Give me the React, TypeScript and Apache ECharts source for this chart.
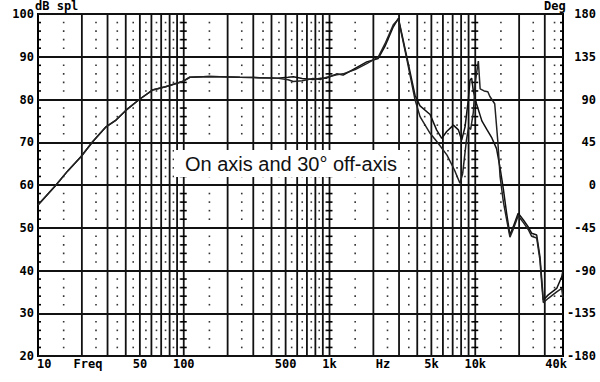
import { useEffect, useRef } from "react";
import * as echarts from "echarts";

// ---- Data ----
const freqOnAxis = [10, 13.3, 16, 19.7, 23.7, 29.3, 34.3, 40.2, 49.5, 61, 75, 98, 110, 150, 243, 330, 437, 520, 565, 650, 770, 870, 956, 1120, 1240, 1500, 1800, 2160, 2400, 2740, 2970, 3390, 3860, 4180, 4900, 5430, 5890, 6370, 7080, 7660, 8070, 8510, 8960, 9200, 9450, 9700, 10200, 11100, 12000, 13000, 14000, 14800, 15600, 16400, 17300, 18200, 19700, 21400, 23100, 24400, 26400, 27800, 28600, 29300, 31700, 36200, 39200, 40000];
const dbOnAxis = [55.3, 60, 63.3, 66.6, 70.1, 73.6, 75.2, 77.5, 80.0, 82.2, 83.0, 84.2, 85.2, 85.4, 85.2, 85.1, 85.0, 85.2, 85.3, 84.9, 84.7, 85.0, 85.0, 86.0, 85.7, 87.3, 88.8, 89.6, 92.4, 97.0, 99.0, 90, 81, 78.5, 76.5, 72.9, 70.9, 72.5, 74.0, 72.9, 70.5, 73.6, 79.9, 84.5, 85, 82, 79, 75, 73, 71, 68.5, 64, 59, 53.5, 48.3, 50.2, 53.4, 51.8, 50.2, 48.7, 48.3, 43.2, 37.8, 33.1, 34.3, 35.8, 38.5, 40];

const freqOffAxis = [10, 13.3, 16, 19.7, 23.7, 29.3, 34.3, 40.2, 49.5, 61, 75, 98, 110, 150, 243, 330, 437, 520, 565, 650, 770, 870, 956, 1120, 1240, 1500, 1800, 2160, 2400, 2740, 2970, 3390, 3860, 4180, 4900, 5500, 6400, 7200, 7850, 8200, 8700, 9000, 9300, 9700, 10000, 10500, 10800, 11500, 12200, 12600, 13600, 14300, 14800, 15600, 16400, 17300, 18200, 19700, 21400, 23100, 24400, 26400, 27800, 28600, 29300, 31700, 36200, 39200, 40000];
const dbOffAxis = [55.3, 60, 63.3, 66.6, 70.1, 73.6, 75.2, 77.5, 80.0, 82.2, 83.0, 84.2, 85.2, 85.4, 85.2, 85.1, 85.0, 84.6, 84.2, 84.4, 84.9, 84.7, 85.2, 85.8, 86.0, 87.0, 88.4, 89.9, 93.0, 97.5, 98.8, 89.5, 80, 76, 72.1, 70, 67, 63.5, 60.4, 62.7, 70.5, 73.5, 73, 77, 84, 89, 82.5, 82, 81.8, 80.7, 79, 70, 62, 56, 52, 47.8, 49.6, 52.8, 51.2, 49.6, 48.0, 47.6, 42.4, 36.8, 32.5, 33.5, 35.0, 35.8, 33.5];

// grid frequencies
const majorFreqs = [20, 30, 40, 50, 60, 70, 80, 90, 200, 300, 400, 500, 600, 700, 800, 900, 2000, 3000, 4000, 5000, 6000, 7000, 8000, 9000, 20000, 30000];
const minorFreqs = [15, 25, 35, 45, 55, 65, 75, 85, 95, 150, 250, 350, 450, 550, 650, 750, 850, 950, 1500, 2500, 3500, 4500, 5500, 6500, 7500, 8500, 9500, 15000, 25000, 35000];
const tickedFreqs = [100, 1000, 10000];
const borderFreqs = [10, 40000];
const minorDb = [22, 24, 26, 28, 32, 34, 36, 38, 42, 44, 46, 48, 52, 54, 56, 58, 62, 64, 66, 68, 72, 74, 76, 78, 82, 84, 86, 88, 92, 94, 96, 98];

// x tick labels
const xTickValues = [10, 22, 50, 100, 500, 1000, 2330, 5000, 10000, 40000];
const xTickLabels = ["10", "Freq", "50", "100", "500", "1k", "Hz", "5k", "10k", "40k"];

const DB_MIN = 20;
const DB_MAX = 100;
const DEG_MIN = -180;
const DEG_MAX = 180;

const MONO = '"DejaVu Sans Mono", monospace';

export default function App() {
  const ref = useRef<HTMLDivElement>(null);

  useEffect(() => {
    document.body.style.margin = "0";
    const chart = echarts.init(ref.current!, null, { renderer: "svg" });

    const gridData: number[][] = [];
    majorFreqs.forEach((f) => gridData.push([f, 60, 0]));
    minorFreqs.forEach((f) => gridData.push([f, 60, 1]));
    tickedFreqs.forEach((f) => gridData.push([f, 60, 2]));
    gridData.push([borderFreqs[0], 60, 3]);
    gridData.push([borderFreqs[1], 60, 4]);

    const lineColor = "#111";
    const gridWidth = 1.8;

    const option: any = {
      animation: false,
      backgroundColor: "#fff",
      grid: {
        left: 38,
        top: 14,
        width: 525,
        height: 342,
        show: true,
        borderColor: "#000",
        borderWidth: 2,
        backgroundColor: "transparent",
      },
      xAxis: {
        type: "log",
        logBase: 10,
        min: 10,
        max: 40000,
        axisLine: { show: false },
        axisTick: { show: false },
        axisLabel: { show: false },
        splitLine: { show: false },
      },
      yAxis: [
        {
          type: "value",
          min: DB_MIN,
          max: DB_MAX,
          interval: 10,
          position: "left",
          axisLine: { show: false },
          axisTick: { show: false },
          axisLabel: {
            margin: 4,
            color: "#000",
            fontFamily: MONO,
            fontWeight: "bold",
            fontSize: 12,
          },
          splitLine: { show: true, lineStyle: { color: lineColor, width: gridWidth } },
        },
        {
          type: "value",
          min: DEG_MIN,
          max: DEG_MAX,
          interval: 45,
          position: "right",
          axisLine: { show: false },
          axisTick: { show: false },
          axisLabel: {
            margin: 33,
            align: "right",
            color: "#000",
            fontFamily: MONO,
            fontWeight: "bold",
            fontSize: 12,
          },
          splitLine: { show: false },
        },
      ],
      graphic: [
        {
          type: "text",
          left: 35,
          top: 0,
          z: 100,
          style: { text: "dB spl", font: `bold 12px ${MONO}`, fill: "#000" },
        },
        {
          type: "text",
          left: 544,
          top: 0,
          z: 100,
          style: { text: "Deg", font: `bold 12px ${MONO}`, fill: "#000" },
        },
        {
          type: "rect",
          shape: { x: 174, y: 150, width: 230, height: 27 },
          z: 100,
          style: { fill: "#fff" },
        },
        {
          type: "text",
          x: 291,
          y: 164,
          z: 101,
          style: {
            text: "On axis and 30° off-axis",
            font: '20px "Liberation Sans", Arial, sans-serif',
            fill: "#111",
            align: "center",
            verticalAlign: "middle",
          },
        },
      ],
      series: [
        {
          type: "custom",
          name: "grid",
          z: 1,
          silent: true,
          clip: false,
          data: gridData,
          renderItem: (_params: any, api: any) => {
            const f = api.value(0);
            const kind = api.value(2);
            const top = api.coord([f, DB_MAX]);
            const bot = api.coord([f, DB_MIN]);
            const x = top[0];
            const children: any[] = [];
            if (kind === 0 || kind === 2) {
              children.push({
                type: "line",
                shape: { x1: x, y1: top[1], x2: x, y2: bot[1] },
                style: { stroke: lineColor, lineWidth: gridWidth },
              });
            }
            if (kind === 1) {
              minorDb.forEach((d) => {
                const p = api.coord([f, d]);
                children.push({
                  type: "rect",
                  shape: { x: x - 0.8, y: p[1] - 0.8, width: 1.6, height: 1.6 },
                  style: { fill: "#333" },
                });
              });
            }
            if (kind >= 2) {
              const x1 = kind === 3 ? x : x - 3;
              const x2 = kind === 4 ? x : x + 3;
              minorDb.forEach((d) => {
                const p = api.coord([f, d]);
                children.push({
                  type: "line",
                  shape: { x1, y1: p[1], x2, y2: p[1] },
                  style: { stroke: "#000", lineWidth: 1.6 },
                });
              });
            }
            return { type: "group", children };
          },
        },
        {
          type: "custom",
          name: "xlabels",
          z: 5,
          silent: true,
          clip: false,
          data: xTickValues.map((f, i) => [f, DB_MIN, i]),
          renderItem: (_params: any, api: any) => {
            const i = api.value(2);
            const p = api.coord([api.value(0), DB_MIN]);
            const last = xTickValues.length - 1;
            const align = i === 0 ? "left" : i === last ? "right" : "center";
            const dx = i === 0 ? -1 : i === last ? 4 : 0;
            return {
              type: "text",
              x: p[0] + dx,
              y: p[1] + 8,
              style: {
                text: xTickLabels[i],
                font: `bold 12px ${MONO}`,
                fill: "#000",
                align,
                verticalAlign: "middle",
              },
            };
          },
        },
        {
          type: "line",
          name: "On axis",
          showSymbol: false,
          z: 3,
          data: freqOnAxis.map((f, i) => [f, dbOnAxis[i]]),
          lineStyle: { color: "#111", width: 1.5 },
        },
        {
          type: "line",
          name: "30° off-axis",
          showSymbol: false,
          z: 3,
          data: freqOffAxis.map((f, i) => [f, dbOffAxis[i]]),
          lineStyle: { color: "#222", width: 1.5 },
        },
      ],
    };

    chart.setOption(option);
    return () => chart.dispose();
  }, []);

  return <div ref={ref} style={{ width: 600, height: 382 }} />;
}
